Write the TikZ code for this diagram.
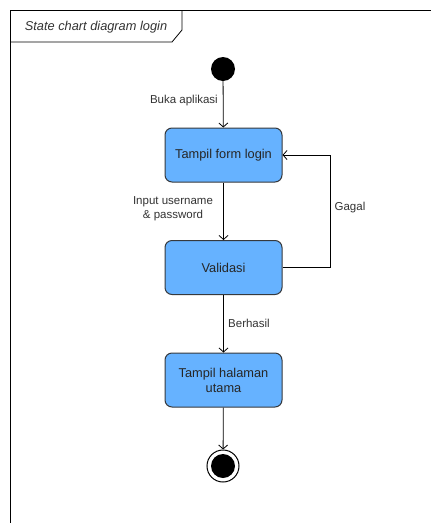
\documentclass[tikz,border=0pt]{standalone}
\usepackage{fontspec}
\setmainfont{Liberation Sans}
\usetikzlibrary{arrows.meta}
\definecolor{boxfill}{HTML}{66B2FF}
\definecolor{boxline}{HTML}{36393D}
\definecolor{lbl}{HTML}{333333}
\begin{document}
\begin{tikzpicture}[x=1pt,y=-1pt,
  state/.style={draw=boxline,line width=1pt,fill=boxfill,rounded corners=7pt,minimum width=117pt,minimum height=54pt,inner sep=0pt,align=center,font=\fontsize{12.8}{15}\selectfont,text=black!85},
  conn/.style={draw=black,line width=0.8pt,-{Straight Barb[length=4pt,width=9pt]}},
  elabel/.style={font=\fontsize{11.5}{13.5}\selectfont,text=lbl,align=center,inner sep=1pt}]
\useasboundingbox (0,0) rectangle (431,523);
\fill[white] (0,0) rectangle (431,523);
% frame
\draw[line width=1pt] (10,523) -- (10,10) -- (431,10);
\draw[line width=0.8pt] (10,42) -- (172,42) -- (182,30) -- (182,10);
\node[font=\itshape\fontsize{12.8}{15}\selectfont,text=lbl,anchor=center] (title) at (96,27) {State chart diagram login};
% nodes
\node[circle,fill=black,minimum size=24pt,inner sep=0pt] (start) at (223,69) {};
\node[state] (form) at (223.5,155) {Tampil form login};
\node[state] (valid) at (223.5,267.5) {Validasi};
\node[state] (home) at (223.5,380) {Tampil halaman\\utama};
\node[circle,draw=black,line width=1pt,fill=white,minimum size=32pt,inner sep=0pt] (final) at (223,466) {};
\node[circle,fill=black,minimum size=24pt,inner sep=0pt] (finalin) at (223,466) {};
\coordinate (g1) at (330,267.5);
\coordinate (g2) at (330,155);
% edges
\draw[conn] (start) -- (form);
\draw[conn] (form) -- (valid);
\draw[conn] (valid) -- (home);
\draw[conn] (home) -- (final);
\draw[conn] (valid.east) -- (g1) -- (g2) -- (form.east);
% labels
\node[elabel,anchor=east] (l1) at (219,101) {Buka aplikasi};
\node[elabel] (l2) at (173,208.5) {Input username\\\& password};
\node[elabel,anchor=west] (l3) at (227,323) {Berhasil};
\node[elabel] (l4) at (350,208) {Gagal};
\end{tikzpicture}
\end{document}
